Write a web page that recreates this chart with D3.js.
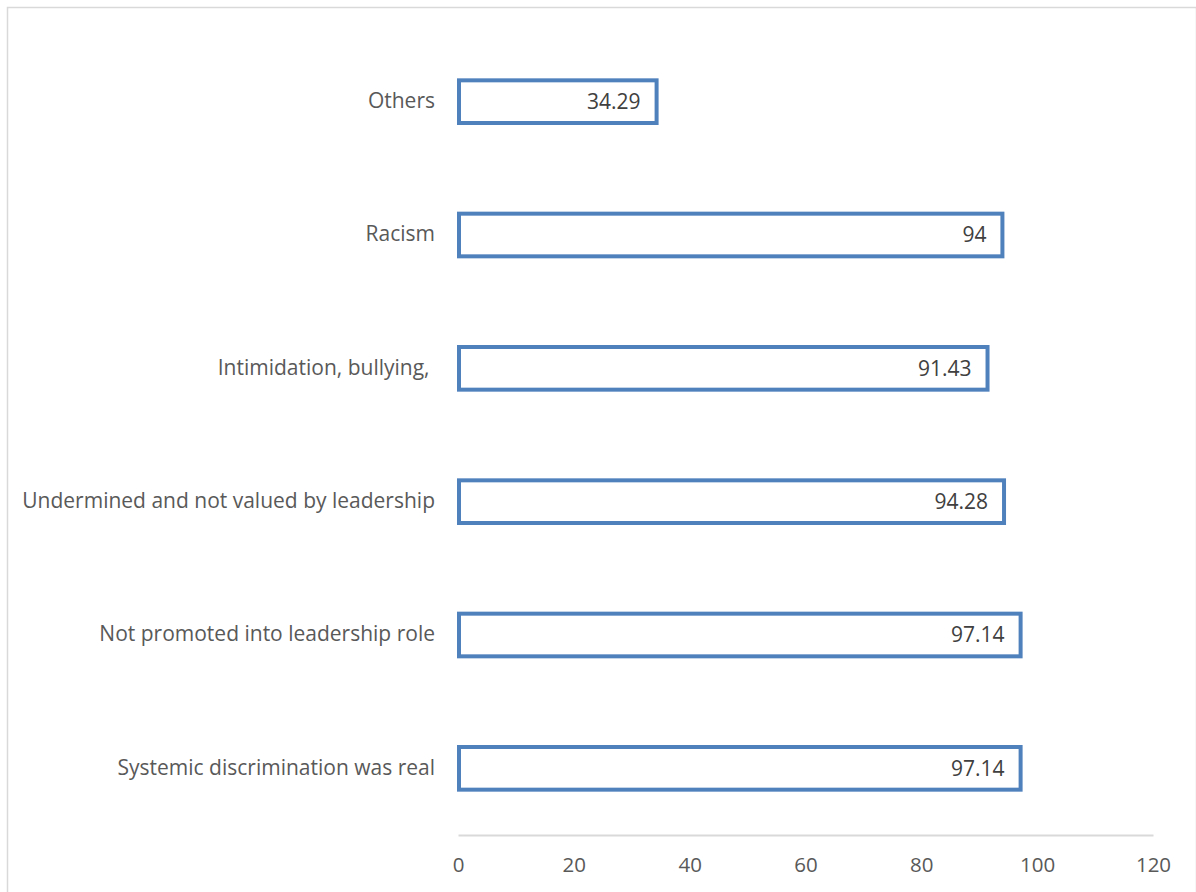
<!DOCTYPE html>
<html>
<head>
<meta charset="utf-8">
<script src="https://cdn.jsdelivr.net/npm/d3@7"></script>
<style>
  html, body { margin: 0; padding: 0; background: #fff; }
  svg { display: block; }
  text { font-family: "Open Sans", "Noto Sans", sans-serif; }
</style>
</head>
<body>
<svg id="chart" width="1196" height="892"></svg>
<script>
// Categories listed from bottom to top of the chart
const categories = [
  "Systemic discrimination was real",
  "Not promoted into leadership role",
  "Undermined and not valued by leadership",
  "Intimidation, bullying, ",
  "Racism",
  "Others"
];
const values = [97.14, 97.14, 94.28, 91.43, 94, 34.29];
const valueLabels = ["97.14", "97.14", "94.28", "91.43", "94", "34.29"];
const xTicks = [0, 20, 40, 60, 80, 100, 120];

const svg = d3.select("#chart");
const W = 1196, H = 892;
const margin = { left: 458, right: 43, top: 35, bottom: 57 };

// chart frame
svg.append("rect")
  .attr("x", 7.5).attr("y", 7.5)
  .attr("width", W - 7).attr("height", H)
  .attr("fill", "#fff")
  .attr("stroke", "#d9d9d9").attr("stroke-width", 1.5);

const x = d3.scaleLinear().domain([0, 120]).range([margin.left, W - margin.right]);
const y = d3.scaleBand()
  .domain(categories.slice().reverse())
  .range([margin.top, H - margin.bottom])
  .paddingInner(0.68).paddingOuter(0.34);

// x axis
const axisY = H - margin.bottom;
const xAxis = d3.axisBottom(x).tickValues(xTicks).tickSize(0).tickPadding(22);
const gx = svg.append("g").attr("transform", `translate(0,${axisY})`).call(xAxis);
gx.select(".domain").attr("stroke", "#d9d9d9").attr("stroke-width", 2);
gx.selectAll("text")
  .attr("fill", "#595959")
  .style("font-size", "20.5px")
  .style("font-family", "'Open Sans', sans-serif");

const data = categories.map((c, i) => ({ c, v: values[i], lab: valueLabels[i] }));

// bars: white fill with blue outline
svg.append("g").selectAll("rect")
  .data(data).join("rect")
  .attr("x", x(0) + 1)
  .attr("y", d => y(d.c))
  .attr("width", d => x(d.v) - x(0) - 1)
  .attr("height", y.bandwidth())
  .attr("fill", "#fff")
  .attr("stroke", "#4f81bd")
  .attr("stroke-width", 4);

// value labels inside the bar end
svg.append("g").selectAll("text")
  .data(data).join("text")
  .attr("x", d => x(d.v) - 16)
  .attr("y", d => y(d.c) + y.bandwidth() / 2)
  .attr("dy", "0.35em")
  .attr("text-anchor", "end")
  .attr("fill", "#404040")
  .style("font-size", "21px")
  .text(d => d.lab);

// category labels
svg.append("g").selectAll("text")
  .data(data).join("text")
  .attr("x", 435)
  .attr("y", d => y(d.c) + y.bandwidth() / 2 - 1)
  .attr("dy", "0.35em")
  .attr("text-anchor", "end")
  .attr("fill", "#595959")
  .style("font-size", "21px")
  .style("white-space", "pre")
  .text(d => d.c);
</script>
</body>
</html>
